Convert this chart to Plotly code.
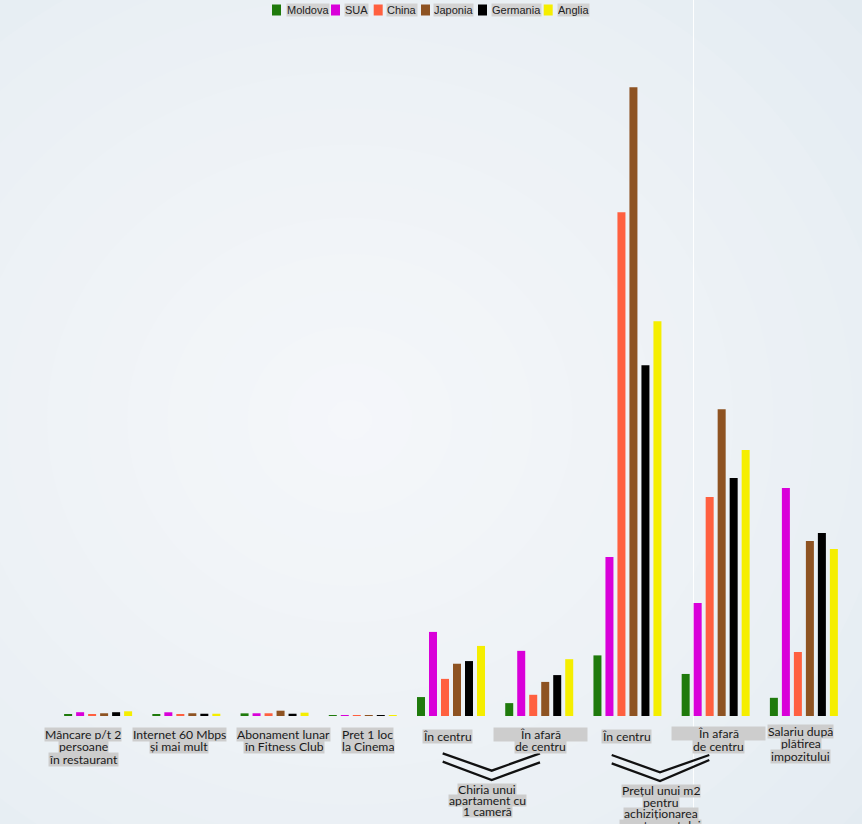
import plotly.graph_objects as go

# ---------------- data ----------------
categories = [
    "Mâncare p/t 2 persoane în restaurant",
    "Internet 60 Mbps și mai mult",
    "Abonament lunar în Fitness Club",
    "Preț 1 loc la Cinema",
    "Chiria – în centru",
    "Chiria – în afară de centru",
    "Preț m2 – în centru",
    "Preț m2 – în afară de centru",
    "Salariu după plătirea impozitului",
]
countries = ["Moldova", "SUA", "China", "Japonia", "Germania", "Anglia"]
colors = ["#1f7a0c", "#d900d9", "#ff6040", "#8e5322", "#000000", "#f5ee00"]

moldova = [17, 17, 35, 5, 250, 170, 800, 555, 240]
sua = [50, 49, 36, 11, 1110, 860, 2100, 1490, 3010]
china = [18, 17, 36, 7, 490, 280, 6650, 2890, 845]
japonia = [36, 36, 70, 12, 690, 450, 8300, 4050, 2310]
germania = [50, 30, 30, 10, 725, 540, 4630, 3140, 2415]
anglia = [62, 30, 44, 11, 925, 750, 5210, 3510, 2205]
series = [moldova, sua, china, japonia, germania, anglia]

tick_lines = [
    ["Mâncare p/t 2", "persoane", "în restaurant"],
    ["Internet 60 Mbps", "și mai mult"],
    ["Abonament lunar", "în Fitness Club"],
    ["Preț 1 loc", "la Cinema"],
    ["În centru"],
    ["În afară", "de centru"],
    ["În centru"],
    ["În afară", "de centru"],
    ["Salariu după", "plătirea", "impozitului"],
]
group_labels = [
    ["Chiria unui", "apartament cu", "1 cameră"],
    ["Prețul unui m2", "pentru", "achiziționarea", "apartamentului"],
]

# ---------------- geometry / style ----------------
W, H = 862, 824
L, R, T, B = 54, 14, 30, 108
PW, PH = W - L - R, H - T - B
YMAX = 9055


def px_x(px):
    return (px - L) / PW


def px_y(py):
    return (H - B - py) / PH


FONT = "Lato, 'Open Sans', sans-serif"
LABEL_BG = "#cdcdcd"
TXT = "#1a1a1a"
FS = 12.2

fig = go.Figure()
for name, vals, col in zip(countries, series, colors):
    fig.add_trace(go.Bar(name=name, x=categories, y=vals,
                         marker=dict(color=col, line=dict(width=0)),
                         showlegend=False))

shapes = []
annotations = []

# background radial gradient (approximation)
outer = (0xe3, 0xeb, 0xf1)
inner = (0xf5, 0xf7, 0xfa)
cx, cy = 350, 420
N = 18
Rmax = 640
for k in range(N):
    t = k / (N - 1)
    r = Rmax * (1 - t) + 20 * t
    c = tuple(round(o + (i - o) * (t ** 0.8)) for o, i in zip(outer, inner))
    shapes.append(dict(type="circle", xref="paper", yref="paper", layer="below",
                       x0=px_x(cx - r * 1.1), x1=px_x(cx + r * 1.1),
                       y0=px_y(cy + r), y1=px_y(cy - r),
                       fillcolor="rgb(%d,%d,%d)" % c, line=dict(width=0)))
# faint vertical separator line
shapes.append(dict(type="line", xref="paper", yref="paper", layer="below",
                   x0=px_x(693.5), x1=px_x(693.5), y0=px_y(H), y1=px_y(0),
                   line=dict(color="rgba(255,255,255,0.9)", width=1)))


# chevrons under the grouped categories
def chevron(xl, xv, xr, yl, yv, yr):
    return dict(type="path", xref="paper", yref="paper",
                path="M %f,%f L %f,%f L %f,%f" % (px_x(xl), px_y(yl), px_x(xv), px_y(yv), px_x(xr), px_y(yr)),
                line=dict(color="#111111", width=2.3))


shapes.append(chevron(442.7, 491.7, 540, 753.3, 770.7, 753.3))
shapes.append(chevron(442.7, 491.7, 540, 761.7, 780, 762.3))
shapes.append(chevron(611.7, 660, 709.3, 755, 772.3, 755))
shapes.append(chevron(611.7, 660, 709.3, 763.3, 781, 760))

# category labels (per-line highlighted text)
label_xshift = [-15, -7, 9, 5, -3.5, 1, -0.5, 3, -3]
label_y0 = [734.3, 734.3, 734.3, 734, 736, 734, 736, 733.5, 731]
line_gap = 12.5


def add_line(text, x, xref, y_px, xshift=0, width=None, h=12.5):
    ann = dict(x=x, xref=xref, y=px_y(y_px), yref="paper", xanchor="center",
               yanchor="middle", showarrow=False, xshift=xshift, text=text,
               font=dict(family=FONT, size=FS, color=TXT),
               bgcolor=LABEL_BG, borderpad=0, height=h)
    if width:
        ann["width"] = width
    annotations.append(ann)


for i, lines in enumerate(tick_lines):
    for j, ln in enumerate(lines):
        w = 93 if (ln == "În afară") else None
        add_line(ln, categories[i], "x", label_y0[i] + j * line_gap, label_xshift[i], w)

for j, ln in enumerate(group_labels[0]):
    add_line(ln, px_x(487), "paper", 789 + j * 11.3, h=11.3)
for j, ln in enumerate(group_labels[1]):
    add_line(ln, px_x(660.5), "paper", 790.7 + j * 11.8, h=11.8)

# manual legend
leg_sq_x = [272, 331, 373.7, 421, 478, 543.7]
leg_tx_x = [286, 344.3, 386, 433.3, 491, 556.7]
for name, col, sx, tx in zip(countries, colors, leg_sq_x, leg_tx_x):
    shapes.append(dict(type="rect", xref="paper", yref="paper",
                       x0=px_x(sx), x1=px_x(sx + 9), y0=px_y(15.5), y1=px_y(4.5),
                       fillcolor=col, line=dict(width=0)))
    annotations.append(dict(x=px_x(tx), xref="paper", y=px_y(10.5), yref="paper",
                            xanchor="left", yanchor="middle", showarrow=False,
                            text=name, bgcolor="#d3d3d3", borderpad=0, height=12,
                            font=dict(family="Arial, 'Liberation Sans', sans-serif", size=11, color="#222222")))

fig.update_layout(
    width=W, height=H,
    margin=dict(l=L, r=R, t=T, b=B),
    paper_bgcolor="rgb(%d,%d,%d)" % outer,
    plot_bgcolor="rgba(0,0,0,0)",
    barmode="group", bargap=0.184, bargroupgap=0.333,
    showlegend=False,
    xaxis=dict(showticklabels=False, showgrid=False, zeroline=False, showline=False, ticks="",
               range=[-0.5, 8.5]),
    yaxis=dict(range=[0, YMAX], visible=False, showgrid=False, zeroline=False),
    shapes=shapes,
    annotations=annotations,
    font=dict(family=FONT),
)

fig.write_html("out.html")
